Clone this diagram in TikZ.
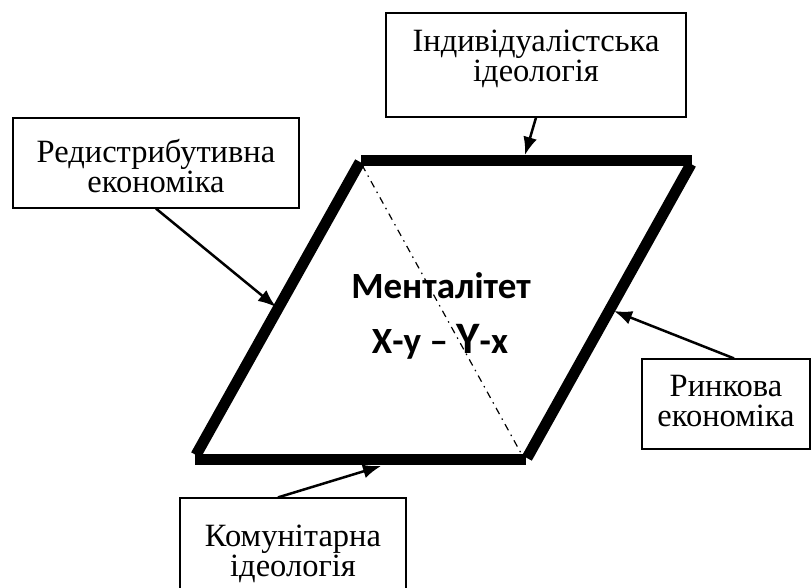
\documentclass[tikz,border=0pt]{standalone}
\usepackage{fontspec}
\setmainfont{Liberation Serif}
\newfontfamily\carlito{Carlito}
\usetikzlibrary{arrows.meta}
\begin{document}
\begin{tikzpicture}[x=1pt,y=-1pt,
  lbl/.style={draw, line width=1.2pt, align=center, font=\fontsize{32.5}{30}\selectfont, inner sep=0pt},
  side/.style={line width=11pt},
  ptr/.style={line width=2.5pt, -{Latex[length=18pt,width=14pt]}},
  diag/.style={line width=1.2pt, dash pattern=on 7pt off 5pt on 1.5pt off 5pt},
  ctr/.style={font=\carlito\bfseries\fontsize{37}{37}\selectfont, inner sep=0pt, anchor=base}]
\useasboundingbox (0,0) rectangle (811,588);
\fill[white] (0,0) rectangle (811,588);
% boxes
\node[lbl, minimum width=300pt, minimum height=104pt] (topbox) at (536,65) {Індивідуалістська\\ідеологія\rule[-18pt]{0pt}{18pt}};
\node[lbl, minimum width=286pt, minimum height=90pt] (lbox) at (156,163) {\rule{0pt}{30pt}Редистрибутивна\\економіка};
\node[lbl, minimum width=168pt, minimum height=90pt] (rbox) at (726,404) {Ринкова\\економіка\rule[-6pt]{0pt}{6pt}};
\node[lbl, minimum width=226pt, minimum height=112pt] (bbox) at (293,554) {Комунітарна\\ідеологія};
% parallelogram
\coordinate (t1) at (361,161); \coordinate (t2) at (692,161);
\coordinate (r1) at (691,164); \coordinate (r2) at (527,458);
\coordinate (b1) at (195,459); \coordinate (b2) at (526,459);
\coordinate (l1) at (196,455); \coordinate (l2) at (360,162);
\coordinate (d1) at (362,165); \coordinate (d2) at (522,455);
\draw[side] (t1) -- (t2);
\draw[side] (r1) -- (r2);
\draw[side] (b1) -- (b2);
\draw[side] (l1) -- (l2);
\draw[diag] (d1) -- (d2);
% arrows
\coordinate (pt) at (525,155);
\coordinate (pl) at (276,307);
\coordinate (pr) at (614,311);
\coordinate (pb) at (381,466);
\draw[ptr] (topbox.south) -- (pt);
\draw[ptr] (lbox.south) -- (pl);
\draw[ptr] ([xshift=8pt]rbox.north) -- (pr);
\draw[ptr] ([xshift=-15pt]bbox.north) -- (pb);
% centre text
\node[ctr] (m1) at (441,298) {Менталітет};
\node[ctr] (m2) at (440,353) {Х-у – {\fontsize{45}{45}\selectfont Y}-х};
\end{tikzpicture}
\end{document}
